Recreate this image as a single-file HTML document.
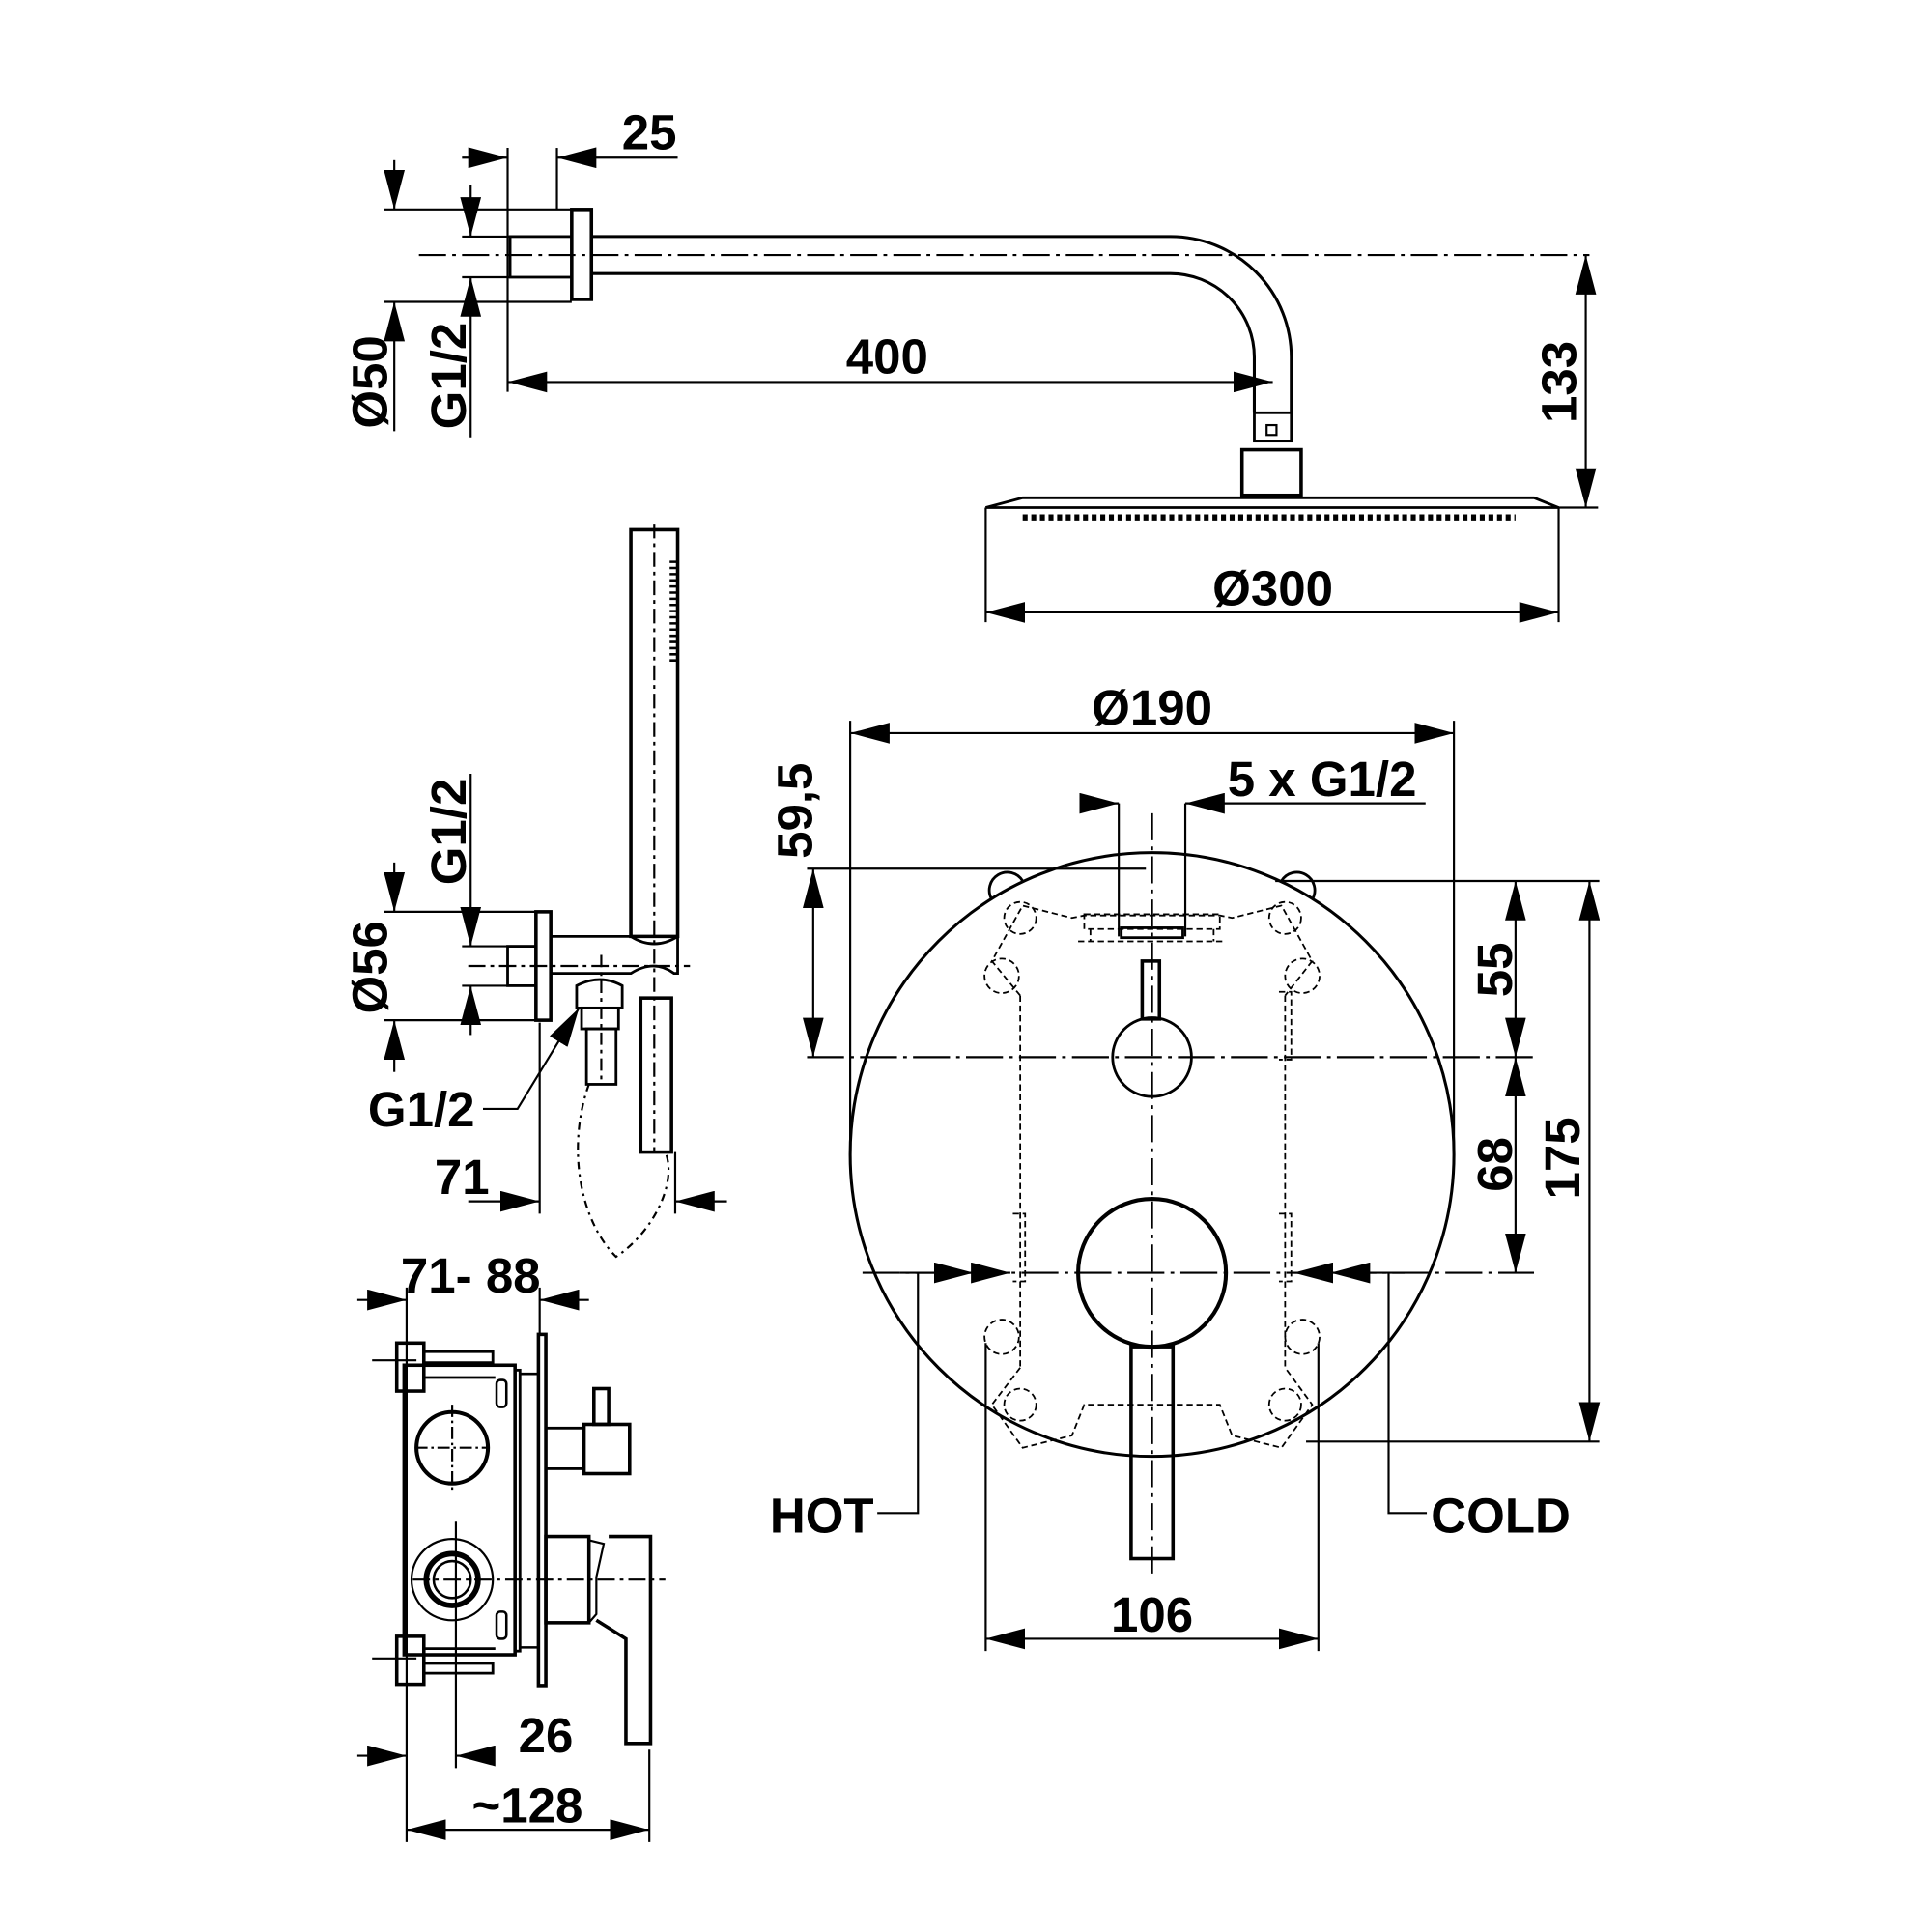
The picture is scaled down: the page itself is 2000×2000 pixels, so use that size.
<!DOCTYPE html>
<html><head><meta charset="utf-8"><style>html,body{margin:0;padding:0;background:#fff}svg{display:block}</style></head><body>
<svg width="2000" height="2000" viewBox="0 0 1568 1568" xmlns="http://www.w3.org/2000/svg">
<defs>
<marker id="a" viewBox="0 0 10 7" refX="10" refY="3.5" markerWidth="32" markerHeight="17" markerUnits="userSpaceOnUse" orient="auto-start-reverse" preserveAspectRatio="none"><path d="M0,0L10,3.5L0,7z" fill="#000"/></marker>
</defs>
<rect width="1568" height="1568" fill="#fff"/>
<g fill="none" stroke="#000" stroke-width="1.7">
<!-- ===== top shower arm ===== -->
<line x1="340" y1="207" x2="1290" y2="207" stroke-dasharray="22,5,3,5"/>
<rect x="414" y="192" width="50" height="33" stroke-width="2.2"/>
<rect x="464" y="170" width="16" height="73" stroke-width="2.8"/>
<path d="M480,192H950A98,98 0 0 1 1048,290V335" stroke-width="2.4"/>
<path d="M480,222H950A68,68 0 0 1 1018,290V335" stroke-width="2.4"/>
<rect x="1018" y="335" width="30" height="23" stroke-width="2.2"/>
<rect x="1028" y="345" width="8" height="8"/>
<rect x="1008" y="365" width="48" height="37" stroke-width="2.8"/>
<path d="M830,404H1245L1265,412H800Z" stroke-width="2.2"/>
<line x1="830" y1="420" x2="1230" y2="420" stroke-width="5" stroke-dasharray="4,3"/>
<!-- 25 -->
<line x1="412" y1="120" x2="412" y2="318"/>
<line x1="452" y1="120" x2="452" y2="170"/>
<line x1="375" y1="128" x2="412" y2="128" marker-end="url(#a)"/>
<line x1="550" y1="128" x2="452" y2="128" marker-end="url(#a)"/>
<!-- Ø50 -->
<line x1="312" y1="170" x2="464" y2="170"/><line x1="312" y1="245" x2="464" y2="245"/>
<line x1="320" y1="130" x2="320" y2="170" marker-end="url(#a)"/>
<line x1="320" y1="350" x2="320" y2="245" marker-end="url(#a)"/>
<!-- G1/2 -->
<line x1="375" y1="192" x2="414" y2="192"/><line x1="375" y1="225" x2="414" y2="225"/>
<line x1="382" y1="150" x2="382" y2="192" marker-end="url(#a)"/>
<line x1="382" y1="355" x2="382" y2="225" marker-end="url(#a)"/>
<!-- 400 -->
<line x1="412" y1="310" x2="1033" y2="310" marker-start="url(#a)" marker-end="url(#a)"/>
<!-- 133 -->
<line x1="1265" y1="412" x2="1297" y2="412"/>
<line x1="1287" y1="207" x2="1287" y2="412" marker-start="url(#a)" marker-end="url(#a)"/>
<!-- Ø300 -->
<line x1="800" y1="412" x2="800" y2="505"/><line x1="1265" y1="412" x2="1265" y2="505"/>
<line x1="800" y1="497" x2="1265" y2="497" marker-start="url(#a)" marker-end="url(#a)"/>

<!-- ===== hand shower ===== -->
<path d="M512,430H550V760H512Z" stroke-width="2.8"/>
<line x1="531" y1="425" x2="531" y2="935" stroke-dasharray="12,4,3,4"/>
<line x1="547" y1="455" x2="547" y2="540" stroke-width="7" stroke-dasharray="2,3"/>
<rect x="435" y="740" width="12" height="88" stroke-width="2.8"/>
<rect x="412" y="768" width="23" height="32" stroke-width="2.2"/>
<path d="M447,760H512Q531,772 550,760V790H547Q531,778 512,790H447Z" stroke-width="2.2"/>
<line x1="380" y1="784" x2="560" y2="784" stroke-dasharray="14,4,3,4"/>
<path d="M468,800Q487,790 505,800V818H468Z" stroke-width="2.2"/>
<rect x="472" y="818" width="30" height="17" stroke-width="2.2"/>
<rect x="476" y="835" width="24" height="45" stroke-width="2.2"/>
<line x1="488" y1="775" x2="488" y2="880" stroke-dasharray="10,4,3,4"/>
<rect x="520" y="810" width="25" height="125" stroke-width="2.8"/>
<path d="M478,880C460,930 470,990 500,1020C530,1000 550,960 540,935" stroke-dasharray="6,4,2,4"/>
<!-- Ø56 / G1/2 -->
<line x1="312" y1="740" x2="435" y2="740"/><line x1="312" y1="828" x2="435" y2="828"/>
<line x1="320" y1="700" x2="320" y2="740" marker-end="url(#a)"/>
<line x1="320" y1="870" x2="320" y2="828" marker-end="url(#a)"/>
<line x1="375" y1="768" x2="412" y2="768"/><line x1="375" y1="800" x2="412" y2="800"/>
<line x1="382" y1="628" x2="382" y2="768" marker-end="url(#a)"/>
<line x1="382" y1="840" x2="382" y2="800" marker-end="url(#a)"/>
<path d="M392,900H420L470,818" marker-end="url(#a)"/>
<!-- 71 -->
<line x1="438" y1="830" x2="438" y2="985"/><line x1="548" y1="935" x2="548" y2="985"/>
<line x1="380" y1="975" x2="438" y2="975" marker-end="url(#a)"/>
<line x1="590" y1="975" x2="548" y2="975" marker-end="url(#a)"/>

<!-- ===== valve side ===== -->
<line x1="330" y1="1045" x2="330" y2="1495"/><line x1="438" y1="1045" x2="438" y2="1083"/>
<line x1="290" y1="1055" x2="330" y2="1055" marker-end="url(#a)"/>
<line x1="478" y1="1055" x2="438" y2="1055" marker-end="url(#a)"/>
<rect x="328" y="1108" width="90" height="235" stroke-width="2.8"/>
<rect x="418" y="1112" width="4" height="228" stroke-width="2.2"/>
<line x1="422" y1="1115" x2="437" y2="1115" stroke-width="2"/><line x1="422" y1="1337" x2="437" y2="1337" stroke-width="2"/>
<rect x="437" y="1083" width="6" height="285" stroke-width="2.8"/>
<rect x="322" y="1090" width="22" height="39" stroke-width="2.8"/>
<rect x="322" y="1328" width="22" height="39" stroke-width="2.8"/>
<path d="M344,1097H400V1106H344M344,1118H402" stroke-width="2.2"/>
<path d="M344,1338H402M344,1350H400V1358H344" stroke-width="2.2"/>
<rect x="403" y="1120" width="8" height="22" rx="3" stroke-width="2"/>
<rect x="403" y="1308" width="8" height="22" rx="3" stroke-width="2"/>
<line x1="302" y1="1104" x2="338" y2="1104"/><line x1="302" y1="1346" x2="338" y2="1346"/>
<circle cx="367" cy="1175" r="29" stroke-width="3.2"/>
<line x1="337" y1="1175" x2="397" y2="1175" stroke-dasharray="10,3,2,3"/>
<line x1="367" y1="1140" x2="367" y2="1210" stroke-dasharray="10,3,2,3"/>
<circle cx="367" cy="1282" r="33"/>
<circle cx="367" cy="1282" r="21" stroke-width="4.5"/>
<circle cx="367" cy="1282" r="15" stroke-width="2"/>
<line x1="370" y1="1235" x2="370" y2="1435"/>
<line x1="335" y1="1282" x2="540" y2="1282" stroke-dasharray="14,4,3,4"/>
<rect x="482" y="1127" width="12" height="29" stroke-width="2.8"/>
<rect x="474" y="1156" width="37" height="40" stroke-width="2.8"/>
<rect x="443" y="1159" width="31" height="33" stroke-width="2.2"/>
<rect x="443" y="1247" width="35" height="70" stroke-width="2.8"/>
<path d="M478,1250L490,1253L484,1280V1310L478,1317" stroke-width="1.7"/>
<path d="M494,1247H528V1415H508V1330L484,1315" stroke-width="2.8"/>
<!-- 26 / ~128 -->
<line x1="290" y1="1425" x2="330" y2="1425" marker-end="url(#a)"/>
<line x1="400" y1="1425" x2="370" y2="1425" marker-end="url(#a)"/>
<line x1="527" y1="1420" x2="527" y2="1495"/>
<line x1="330" y1="1485" x2="527" y2="1485" marker-start="url(#a)" marker-end="url(#a)"/>

<!-- ===== front view ===== -->
<circle cx="935" cy="937" r="245" stroke-width="2.4"/>
<line x1="690" y1="585" x2="690" y2="940"/><line x1="1180" y1="585" x2="1180" y2="940"/>
<line x1="690" y1="595" x2="1180" y2="595" marker-start="url(#a)" marker-end="url(#a)"/>
<line x1="877" y1="652" x2="908" y2="652" marker-end="url(#a)"/>
<line x1="1157" y1="652" x2="962" y2="652" marker-end="url(#a)"/>
<line x1="908" y1="652" x2="908" y2="760"/><line x1="962" y1="652" x2="962" y2="760"/>
<line x1="935" y1="660" x2="935" y2="1280" stroke-dasharray="22,5,3,5"/>
<line x1="655" y1="705" x2="930" y2="705"/>
<line x1="655" y1="858" x2="1245" y2="858" stroke-dasharray="30,5,3,5"/>
<line x1="660" y1="705" x2="660" y2="858" marker-start="url(#a)" marker-end="url(#a)"/>
<line x1="1035" y1="715" x2="1298" y2="715"/>
<line x1="1060" y1="1170" x2="1298" y2="1170"/>
<line x1="700" y1="1033" x2="1245" y2="1033" stroke-dasharray="30,5,3,5"/>
<line x1="1230" y1="715" x2="1230" y2="858" marker-start="url(#a)" marker-end="url(#a)"/>
<line x1="1230" y1="858" x2="1230" y2="1033" marker-start="url(#a)" marker-end="url(#a)"/>
<line x1="1290" y1="715" x2="1290" y2="1170" marker-start="url(#a)" marker-end="url(#a)"/>
<!-- dashed mounting -->
<g stroke-dasharray="5,3" stroke-width="1.4">
<path d="M828,808V1110M1043,808V1110"/>
<path d="M828,808L805,780L830,735L870,745L880,743H990L1000,745L1040,735L1065,780L1043,808"/>
<path d="M828,1110L805,1140L830,1175L870,1165L880,1140H990L1000,1165L1040,1175L1065,1140L1043,1110"/>
<circle cx="828" cy="745" r="13"/><circle cx="1043" cy="745" r="13"/>
<circle cx="828" cy="1140" r="13"/><circle cx="1043" cy="1140" r="13"/>
<circle cx="813" cy="792" r="14"/><circle cx="1057" cy="792" r="14"/>
<circle cx="813" cy="1085" r="14"/><circle cx="1057" cy="1085" r="14"/>
<rect x="880" y="742" width="110" height="12"/>
<path d="M875,764H995M885,754V764M985,754V764"/>
<path d="M1038,805H1048V860H1038M822,985H832V1040H822M1038,985H1048V1040H1038"/>
</g>
<path d="M805,730A14,14 0 0 1 830,715M1040,715A14,14 0 0 1 1065,730" stroke-width="2.2"/>
<rect x="910" y="753" width="50" height="8" stroke-width="2.2"/>
<rect x="927" y="780" width="14" height="47" stroke-width="2.8"/>
<circle cx="935" cy="858" r="32" stroke-width="2.2"/>
<circle cx="935" cy="1033" r="60" stroke-width="3.2"/>
<rect x="918" y="1093" width="34" height="172" stroke-width="2.8"/>
<!-- hot/cold -->
<line x1="730" y1="1033" x2="790" y2="1033" marker-end="url(#a)"/>
<line x1="790" y1="1033" x2="820" y2="1033" marker-end="url(#a)"/>
<line x1="1140" y1="1033" x2="1080" y2="1033" marker-end="url(#a)"/>
<line x1="1080" y1="1033" x2="1050" y2="1033" marker-end="url(#a)"/>
<path d="M745,1033V1228H712"/>
<path d="M1127,1033V1228H1158"/>
<!-- 106 -->
<line x1="800" y1="1090" x2="800" y2="1340"/><line x1="1070" y1="1090" x2="1070" y2="1340"/>
<line x1="800" y1="1330" x2="1070" y2="1330" marker-start="url(#a)" marker-end="url(#a)"/>
</g>
<g font-family="Liberation Sans, sans-serif" font-weight="bold" font-size="40" fill="#000" text-anchor="middle">
<text x="527" y="121">25</text>
<text x="720" y="303">400</text>
<text x="1033" y="491">Ø300</text>
<text transform="translate(1279,310) rotate(-90)">133</text>
<text transform="translate(314,310) rotate(-90)">Ø50</text>
<text transform="translate(378,305) rotate(-90)">G1/2</text>
<text transform="translate(378,675) rotate(-90)">G1/2</text>
<text transform="translate(314,785) rotate(-90)">Ø56</text>
<text x="342" y="914">G1/2</text>
<text x="375" y="969">71</text>
<text x="382" y="1049">71- 88</text>
<text x="443" y="1422">26</text>
<text x="428" y="1479">~128</text>
<text x="935" y="588">Ø190</text>
<text x="1073" y="646">5 x G1/2</text>
<text transform="translate(659,658) rotate(-90)">59,5</text>
<text transform="translate(1227,787) rotate(-90)">55</text>
<text transform="translate(1227,945) rotate(-90)">68</text>
<text transform="translate(1282,940) rotate(-90)">175</text>
<text x="667" y="1244">HOT</text>
<text x="1218" y="1244">COLD</text>
<text x="935" y="1324">106</text>
</g>
</svg>
</body></html>
